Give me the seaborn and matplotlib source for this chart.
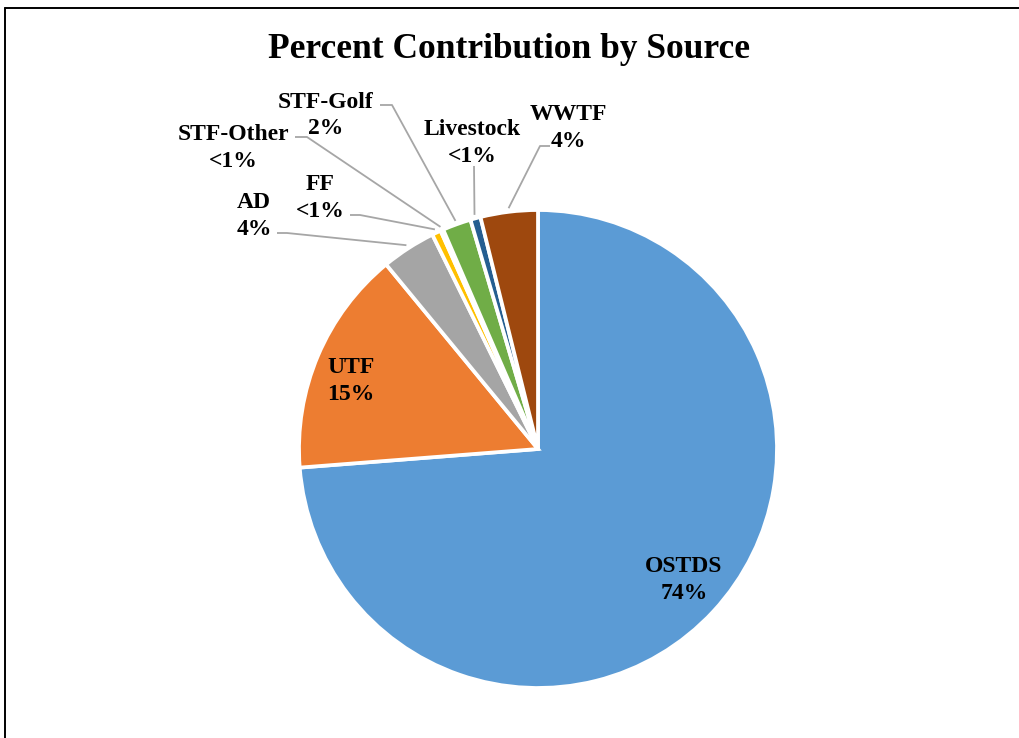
import numpy as np
import matplotlib
matplotlib.use("Agg")
import matplotlib.pyplot as plt
import seaborn as sns
from matplotlib.lines import Line2D

# ---- data ----
sources = ["OSTDS", "UTF", "AD", "FF", "STF-Other", "STF-Golf", "Livestock", "WWTF"]
percent = [73.76, 15.28, 3.67, 0.61, 0.19, 1.93, 0.69, 3.87]
colors_hex = ["#5B9BD5", "#ED7D31", "#A5A5A5", "#FFC000",
              "#4472C4", "#70AD47", "#255E91", "#9E480E"]
title = "Percent Contribution by Source"

sns.set_theme(style="white")
plt.rcParams['font.family'] = ['Liberation Serif', 'DejaVu Serif']

W, H = 1019, 738
fig = plt.figure(figsize=(W / 100, H / 100), dpi=100)
fig.patch.set_facecolor('white')

CX, CY, R = 538, 449, 239  # pie centre and radius in pixels
ax = fig.add_axes([0, 0, 1, 1])
palette = sns.color_palette(colors_hex)
wedges, _ = ax.pie(percent, colors=palette, startangle=90, counterclock=False,
                   radius=1, wedgeprops=dict(edgecolor='white', linewidth=2.7))
ax.set_xlim(-CX / R, (W - CX) / R)
ax.set_ylim(-(H - CY) / R, CY / R)
ax.set_aspect('auto')
ax.axis('off')


def P(x, y):
    return ((x - CX) / R, (CY - y) / R)


def pct_text(v):
    return "<1%" if v < 1 else f"{round(v):.0f}%"


# label layout: centre x, first baseline y (pixels), leader start, leader elbow
layout = {
    "OSTDS": (684, 572, None, None),
    "UTF": (351, 373, None, None),
    "AD": (254, 208, (277, 233), (287, 233)),
    "FF": (320, 190, (350, 215), (360, 215)),
    "STF-Other": (233, 140, (295, 137), (307, 137)),
    "STF-Golf": (326, 107.5, (380, 105), (392, 105)),
    "Livestock": (472, 135, (474, 166), (474, 166)),
    "WWTF": (568, 120, (550, 146), (540, 146)),
}

LS = 27
for i, name in enumerate(sources):
    x, yb, start, elbow = layout[name]
    ax.text(*P(x, yb), name, ha='center', va='baseline', fontsize=17,
            fontweight='bold', color='black')
    ax.text(*P(x, yb + LS), pct_text(percent[i]), ha='center', va='baseline',
            fontsize=17, fontweight='bold', color='black')
    if start is not None:
        w = wedges[i]
        mid = np.deg2rad((w.theta1 + w.theta2) / 2)
        ex, ey = 1.015 * np.cos(mid), 1.015 * np.sin(mid)
        sx, sy = P(*start)
        bx, by = P(*elbow)
        ax.plot([sx, bx, ex], [sy, by, ey], color='#A6A6A6', lw=1.3,
                solid_capstyle='butt', zorder=0.5)

fig.text(0.5, 1 - 58 / H, title, ha='center', va='baseline', fontsize=25.5,
         fontweight='bold', color='black')

# frame lines (left and top)
fig.add_artist(Line2D([4.5 / W, 4.5 / W], [0, 1 - 8 / H], transform=fig.transFigure,
                      color='black', lw=1.4))
fig.add_artist(Line2D([4.5 / W, 1], [1 - 8 / H, 1 - 8 / H], transform=fig.transFigure,
                      color='black', lw=1.4))

fig.savefig("out.png", dpi=100, facecolor='white')
